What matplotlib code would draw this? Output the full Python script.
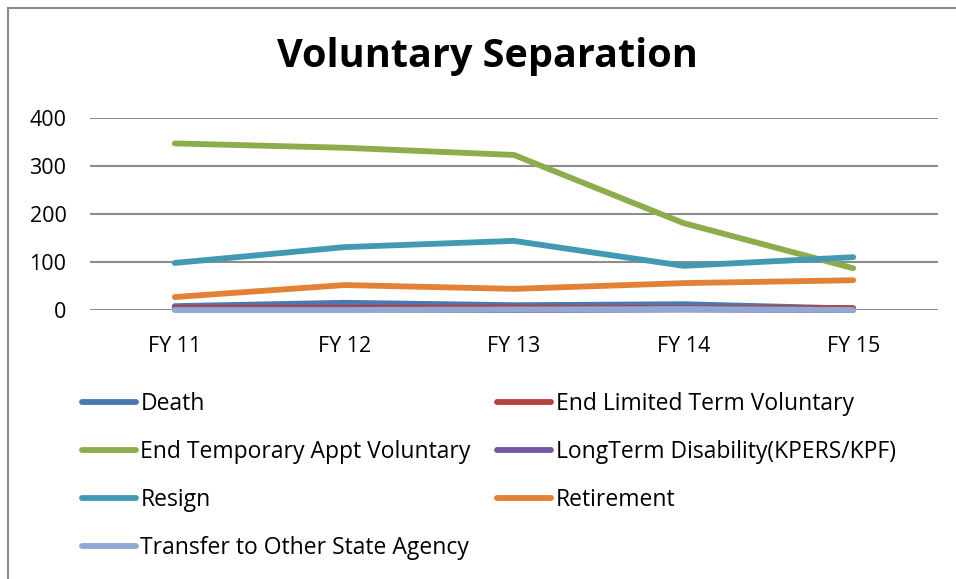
import matplotlib
matplotlib.use("Agg")
import matplotlib.pyplot as plt
from matplotlib.lines import Line2D

plt.rcParams['font.family'] = ['Open Sans', 'DejaVu Sans']

categories = ["FY 11", "FY 12", "FY 13", "FY 14", "FY 15"]
death = [8, 15, 10, 12, 3]
end_limited = [5, 5, 5, 4, 4]
end_temp = [347, 338, 323, 181, 87]
longterm = [1, 1, 0, 1, 0]
resign = [98, 131, 144, 92, 110]
retirement = [27, 52, 44, 56, 62]
transfer = [0, 0, 1, 2, 0]

series = [
    ("Death", death, "#4a78b2"),
    ("End Limited Term Voluntary", end_limited, "#b6423f"),
    ("End Temporary Appt Voluntary", end_temp, "#8cad4b"),
    ("LongTerm Disability(KPERS/KPF)", longterm, "#7558a0"),
    ("Resign", resign, "#4199b3"),
    ("Retirement", retirement, "#e38136"),
    ("Transfer to Other State Agency", transfer, "#8eaad4"),
]

W, H = 956, 579
fig = plt.figure(figsize=(W / 100, H / 100), dpi=100)
ax = fig.add_axes([90 / W, 1 - 310 / H, (938 - 90) / W, (310 - 118) / H])

x = list(range(len(categories)))
handles = {}
for name, vals, col in series:
    ln, = ax.plot(x, vals, color=col, lw=4.2, solid_capstyle='round', label=name)
    handles[name] = ln

ax.set_xlim(-0.5, len(categories) - 0.5)
ax.set_ylim(0, 400)
ax.set_yticks([0, 100, 200, 300, 400])
ax.set_xticks(x)
ax.set_xticklabels(categories)
ax.tick_params(axis='both', length=0, labelsize=15.5)
ax.tick_params(axis='y', pad=17)
ax.tick_params(axis='x', pad=19)
for s in ax.spines.values():
    s.set_visible(False)
ax.yaxis.grid(True, color='#8c8c8c', lw=1.5)
ax.set_axisbelow(True)
for ln in ax.lines:
    ln.set_clip_on(False)

fig.text(487 / W, 1 - 57 / H, "Voluntary Separation", ha='center', va='center',
         fontsize=28.5, fontweight='bold')

# legend, row-major ordering with 2 columns
order = ["Death", "End Temporary Appt Voluntary", "Resign", "Transfer to Other State Agency",
         "End Limited Term Voluntary", "LongTerm Disability(KPERS/KPF)", "Retirement"]
leg = fig.legend([handles[n] for n in order], order, ncol=2,
                 loc='upper left', bbox_to_anchor=(82 / W, 1 - 392 / H),
                 frameon=False, fontsize=16.5, handlelength=2.35, handletextpad=0.2,
                 columnspacing=1.15, labelspacing=1.05, borderaxespad=0, borderpad=0)

# outer border (left and top visible)
fig.add_artist(Line2D([7.5 / W, 7.5 / W], [0, 1 - 7.5 / H], transform=fig.transFigure,
                      color='#8c8c8c', lw=1.5))
fig.add_artist(Line2D([7.5 / W, 1], [1 - 7.5 / H, 1 - 7.5 / H], transform=fig.transFigure,
                      color='#8c8c8c', lw=1.5))

fig.savefig("out.png", dpi=100, facecolor='white')
